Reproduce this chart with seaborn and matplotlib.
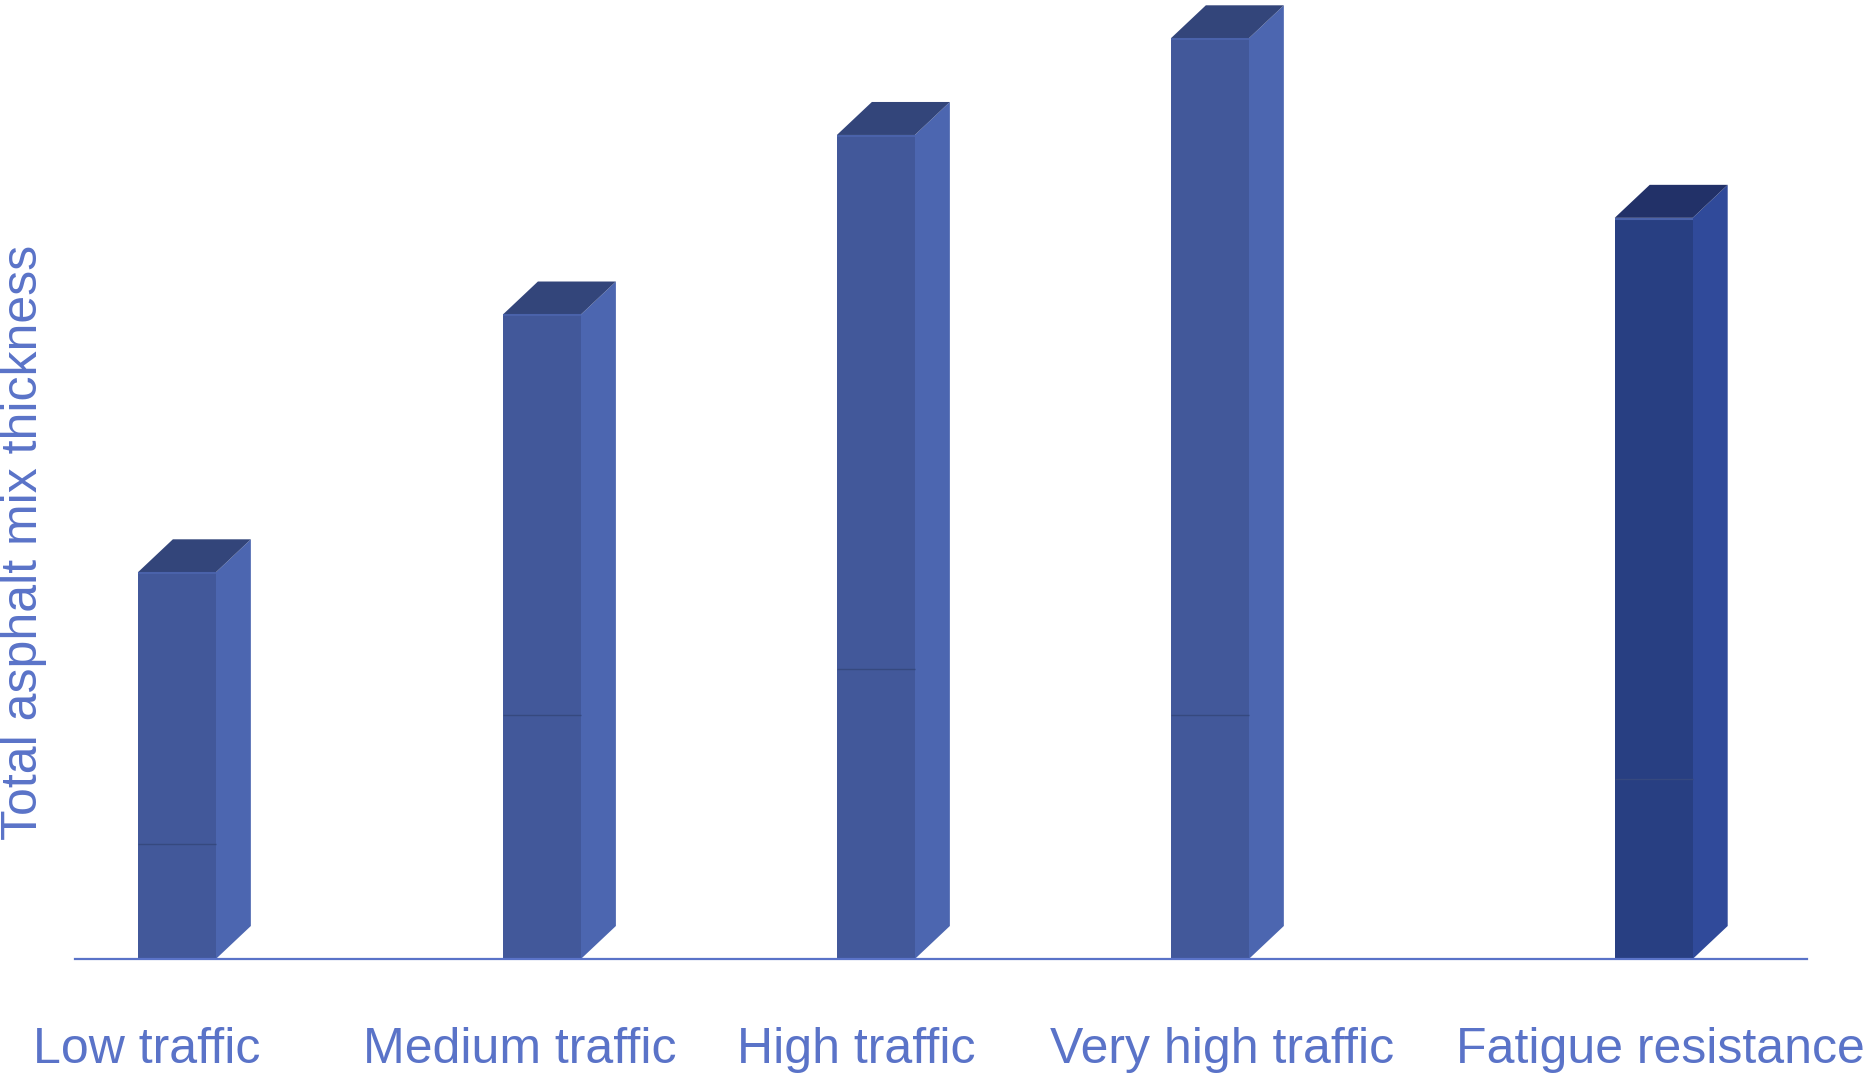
import matplotlib
matplotlib.use("Agg")
import matplotlib.pyplot as plt
from matplotlib.patches import Polygon
import seaborn as sns
import pandas as pd

# Pavement design scenarios and total asphalt mix thickness (base layer + upper layers)
categories = ["Low traffic", "Medium traffic", "High traffic", "Very high traffic", "Fatigue resistance"]
total_thickness = [4.2, 7.0, 8.95, 10.0, 8.05]
base_layer = [1.25, 2.65, 3.15, 2.65, 1.95]

# Layout: bar slot centres and label centres along the x axis
slot_x = [0.0, 1.093, 2.093, 3.093, 4.422]
label_x = [-0.089, 1.027, 2.033, 3.129, 4.443]

front_colors = ["#42589a", "#42589a", "#42589a", "#42589a", "#283f82"]
side_colors = ["#4c66b0", "#4c66b0", "#4c66b0", "#4c66b0", "#304a9a"]
top_colors = ["#33457a", "#33457a", "#33457a", "#33457a", "#223168"]
text_color = "#5a73c8"

sns.set_theme(style="white")
plt.rcParams["font.family"] = ["Liberation Sans", "DejaVu Sans"]

W, H = 1870, 1076
fig = plt.figure(figsize=(W / 100, H / 100), dpi=100)
ax = fig.add_axes([75 / W, 117 / H, (1807 - 75) / W, 1 - 117 / H])

df = pd.DataFrame({"x": slot_x, "total": total_thickness, "scenario": categories})
bar_w = 0.2335
sns.barplot(data=df, x="x", y="total", hue="scenario", palette=front_colors,
            native_scale=True, width=bar_w, legend=False, ax=ax,
            saturation=1, linewidth=0, zorder=3)

ax.set_xlim(-0.305, 4.881)
ax.set_ylim(0, 959 / 92.07)

# Depth of the pseudo-3D extrusion, given in screen pixels and converted to data units
bbox = ax.get_position()
ax_w_px = bbox.width * W
ax_h_px = bbox.height * H
x0, x1 = ax.get_xlim()
y0, y1 = ax.get_ylim()
dx = 35 * (x1 - x0) / ax_w_px
dy = 33 * (y1 - y0) / ax_h_px

for patch, h, b, cs, ct in zip(ax.patches, total_thickness, base_layer, side_colors, top_colors):
    xl = patch.get_x()
    xr = xl + patch.get_width()
    side = Polygon([(xr, 0), (xr + dx, dy), (xr + dx, h + dy), (xr, h)],
                   closed=True, facecolor=cs, edgecolor="none", zorder=2, clip_on=False)
    top = Polygon([(xl, h), (xr, h), (xr + dx, h + dy), (xl + dx, h + dy)],
                  closed=True, facecolor=ct, edgecolor="none", zorder=2, clip_on=False)
    ax.add_patch(side)
    ax.add_patch(top)
    # thin highlight along the front top edge and the base-layer boundary
    ax.plot([xl, xr], [h - 0.01, h - 0.01], color="#4a62aa", lw=1.5, zorder=4, solid_capstyle="butt")
    ax.plot([xl, xr], [b, b], color="#36497f", lw=1.0, zorder=4, solid_capstyle="butt")

for s in ["top", "right", "left"]:
    ax.spines[s].set_visible(False)
ax.spines["bottom"].set_color(text_color)
ax.spines["bottom"].set_linewidth(1.6)
ax.spines["bottom"].set_zorder(5)

ax.set_xticks([])
ax.set_yticks([])
ax.set_xlabel("")
ax.set_ylabel("")

for lx, name in zip(label_x, categories):
    ax.text(lx, -91 / ax_h_px, name, transform=ax.get_xaxis_transform(),
            ha="center", va="center", fontsize=36, color=text_color, clip_on=False)

fig.text(24 / W, 1 - 542 / H, "Total asphalt mix thickness", rotation=90,
         ha="center", va="center", fontsize=36, color=text_color)

fig.savefig("out.png", dpi=100)
